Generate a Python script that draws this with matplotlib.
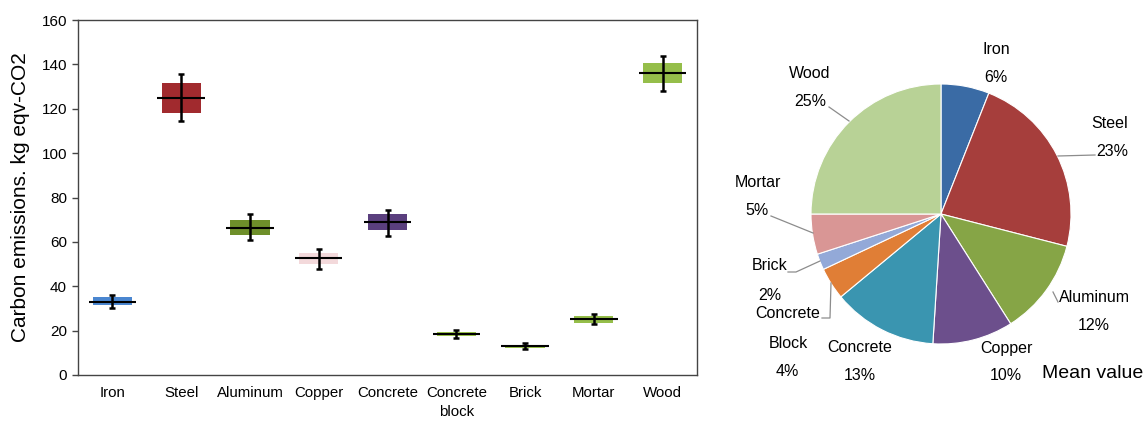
import matplotlib
matplotlib.use("Agg")
import matplotlib.pyplot as plt
import numpy as np

plt.rcParams['font.family'] = ['Liberation Sans', 'DejaVu Sans']

# ---- data ----
categories = ["Iron", "Steel", "Aluminum", "Copper", "Concrete", "Concrete\nblock", "Brick", "Mortar", "Wood"]
medians = [33.0, 125.0, 66.4, 52.7, 68.8, 18.6, 12.9, 25.2, 135.9]
q1 = [31.5, 118.3, 63.0, 50.0, 65.2, 17.6, 12.3, 23.6, 131.4]
q3 = [35.1, 131.7, 70.0, 55.1, 72.4, 19.4, 13.5, 26.6, 140.4]
whisk_lo = [30.0, 114.4, 60.8, 47.9, 62.7, 16.8, 11.6, 22.8, 128.0]
whisk_hi = [36.0, 135.7, 72.4, 57.0, 74.5, 20.3, 14.3, 27.5, 143.7]
box_colors = ["#4A86D0", "#A12A2E", "#6E8F2A", "#F3D9DB", "#5A3F7E",
              "#9BC44C", "#9BC44C", "#95BE4A", "#95BE4A"]

pie_labels = ["Iron", "Steel", "Aluminum", "Copper", "Concrete", "Concrete\nBlock", "Brick", "Mortar", "Wood"]
pie_pct = [6, 23, 12, 10, 13, 4, 2, 5, 25]
pie_colors = ["#3A6BA5", "#A63E3C", "#86A546", "#6C4F8C", "#3A95B0",
              "#E07E36", "#93A9D8", "#D99695", "#B8D296"]

W, H = 1148, 421
fig = plt.figure(figsize=(W / 100, H / 100), dpi=100)

# ---- left: box chart ----
ax = fig.add_axes([78 / W, 1 - 375 / H, (697 - 78) / W, (375 - 20) / H])
x = np.arange(1, len(categories) + 1)
ax.bar(x, np.array(q3) - np.array(q1), bottom=q1, width=0.57, color=box_colors,
       edgecolor='none', zorder=2)
ax.hlines(medians, x - 0.345, x + 0.345, color='black', lw=1.5, zorder=3)
yerr = [np.array(medians) - np.array(whisk_lo), np.array(whisk_hi) - np.array(medians)]
ax.errorbar(x, medians, yerr=yerr, fmt='none', ecolor='black', elinewidth=1.8,
            capsize=2.5, capthick=1.8, zorder=4)
ax.set_xlim(0.5, len(categories) + 0.5)
ax.set_ylim(0, 160)
ax.set_yticks(np.arange(0, 161, 20))
ax.set_xticks(x)
ax.set_xticklabels(categories, fontsize=10.8, linespacing=1.45, va='top')
ax.tick_params(axis='x', length=0, pad=8)
ax.tick_params(axis='y', labelsize=11, length=4, width=1, color='#444444', pad=4)
for s in ax.spines.values():
    s.set_color('#444444')
    s.set_linewidth(1.0)
ax.set_ylabel("Carbon emissions. kg eqv-CO2", fontsize=15, labelpad=8)

# ---- right: pie chart ----
cx, cy, r = 941, 214, 130
ax2 = fig.add_axes([(cx - r) / W, 1 - (cy + r) / H, 2 * r / W, 2 * r / H])
ax2.pie(pie_pct, colors=pie_colors, startangle=90, counterclock=False, radius=1,
        wedgeprops=dict(edgecolor='white', linewidth=0.8))
ax2.set_xlim(-1, 1)
ax2.set_ylim(-1, 1)
ax2.set_aspect('auto')
ax2.axis('off')


def p2d(px, py):
    return ((px - cx) / r, (cy - py) / r)


label_pos = {
    "Iron": [(996, 49), (996, 78)],
    "Steel": [(1110, 124), (1112, 152)],
    "Aluminum": [(1094, 297), (1094, 326)],
    "Copper": [(1006, 348), (1006, 376)],
    "Concrete": [(860, 348), (860, 376)],
    "Concrete\nBlock": [(788, 314), (788, 343), (787, 371)],
    "Brick": [(770, 266), (770, 295)],
    "Mortar": [(758, 183), (757, 211)],
    "Wood": [(810, 73), (810, 101)],
}
for lab, pct in zip(pie_labels, pie_pct):
    pos = label_pos[lab]
    parts = lab.split("\n") + [f"{pct}%"]
    for (px, py), t in zip(pos, parts):
        dx, dy = p2d(px, py)
        ax2.text(dx, dy, t, ha='center', va='center', fontsize=11.5, clip_on=False)

leaders = [
    [(829, 107), (849, 121)],
    [(1058, 156), (1095, 155)],
    [(771, 216), (813, 233)],
    [(788, 272), (796, 272), (820, 261)],
    [(822, 318), (830, 318), (831, 283)],
    [(1053, 292), (1058, 302)],
]
for pts in leaders:
    d = [p2d(px, py) for px, py in pts]
    ax2.plot([p[0] for p in d], [p[1] for p in d], color='#8C8C8C', lw=0.9, clip_on=False)

fig.text(1093 / W, 1 - 373 / H, "Mean value", ha='center', va='center', fontsize=14)

fig.savefig("out.png", dpi=100)
